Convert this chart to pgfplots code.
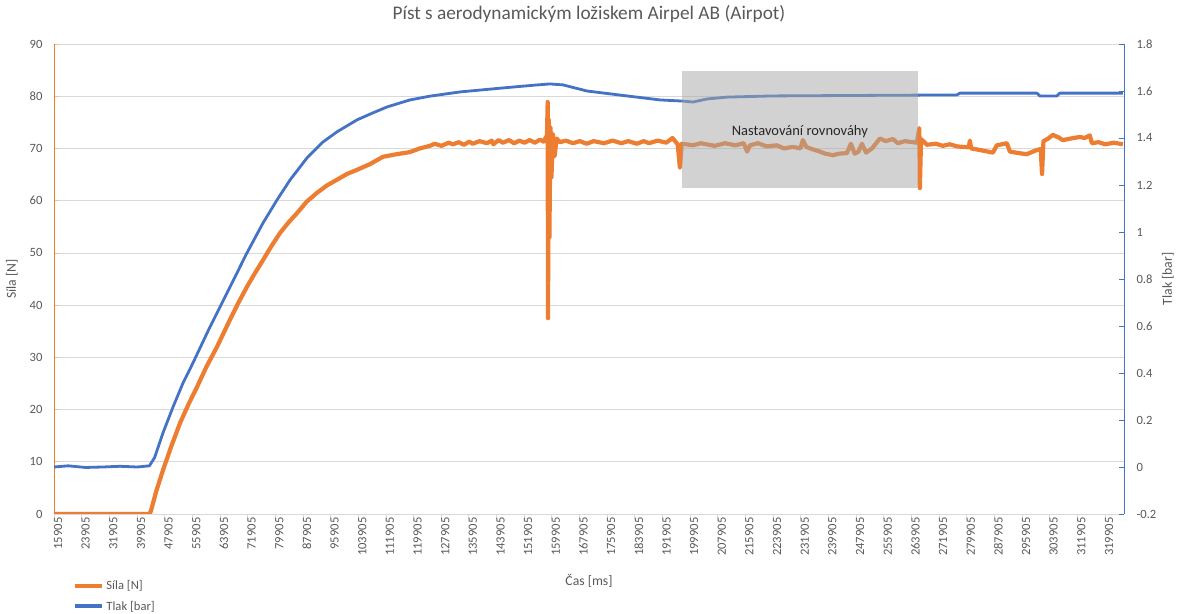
\documentclass[border=0pt]{standalone}
\usepackage{fontspec}
\setmainfont{Carlito}
\usepackage{pgfplots}
\pgfplotsset{compat=1.18}
\definecolor{sorange}{HTML}{ED7D31}
\definecolor{sblue}{HTML}{4472C4}
\definecolor{gridc}{HTML}{D9D9D9}
\definecolor{txt}{HTML}{595959}
\newcommand{\fs}[1]{\fontsize{#1bp}{#1bp}\selectfont}
\begin{document}
\begin{tikzpicture}
\path (0,0) rectangle (1179bp,614bp);
\begin{axis}[
  at={(54bp,100bp)}, anchor=south west, scale only axis,
  width=1070bp, height=470bp,
  xmin=15905, xmax=325400, ymin=0, ymax=90,
  scaled x ticks=false, scaled y ticks=false,
  axis lines*=left, axis line style={-},
  x axis line style={draw=gridc, line width=0.75bp},
  y axis line style={draw=sorange, line width=0.75bp},
  tick align=inside, major tick length=5bp,
  xtick={15905,23905,31905,39905,47905,55905,63905,71905,79905,87905,95905,103905,111905,119905,127905,135905,143905,151905,159905,167905,175905,183905,191905,199905,207905,215905,223905,231905,239905,247905,255905,263905,271905,279905,287905,295905,303905,311905,319905},
  xticklabels={15905,23905,31905,39905,47905,55905,63905,71905,79905,87905,95905,103905,111905,119905,127905,135905,143905,151905,159905,167905,175905,183905,191905,199905,207905,215905,223905,231905,239905,247905,255905,263905,271905,279905,287905,295905,303905,311905,319905},
  xticklabel style={rotate=90, anchor=east, yshift=-4bp},
  xtick style={draw=gridc, line width=0.75bp, yshift=-5bp},
  ytick={0,10,20,30,40,50,60,70,80,90},
  yticklabels={0,10,20,30,40,50,60,70,80,90},
  yticklabel style={xshift=-8bp},
  ytick style={draw=sorange!50, line width=0.75bp},
  ymajorgrids, grid style={draw=gridc, line width=0.75bp},
  tick label style={font=\fs{12.6}, text=txt},
  xlabel={Čas [ms]},
  xlabel style={at={(axis description cs:0.5,-0.153)}, anchor=base, font=\fs{13.7}, text=txt},
  ylabel={Síla [N]},
  ylabel style={at={(axis description cs:-0.0393,0.5)}, anchor=center, font=\fs{13.7}, text=txt},
  title={Píst s aerodynamickým ložiskem Airpel AB (Airpot)},
  title style={at={(axis description cs:0.5,1)}, anchor=base, yshift=19bp, font=\fs{19.3}, text=txt},
  legend style={draw=none, fill=none, at={(axis description cs:0.0178,-0.137)}, anchor=north west,
    font=\fs{12.6}, text=txt, row sep=6bp, inner sep=0pt, cells={anchor=west}},
  legend image code/.code={\draw[#1] (0bp,0bp) -- (27bp,0bp);},
]
\addplot[sorange, line width=4.2bp, line join=round] coordinates {
(15905,0) (30000,0) (43500,0) (43900,0.5) (45500,4.4) (47428,8.4) (49800,12.9)
(52344,17.4) (54800,21.0) (57260,24.3) (60000,28.2) (63044,32.0) (66804,37.2)
(69200,40.4) (71720,43.5) (74000,46.1) (76348,48.6) (78800,51.3) (81265,53.8)
(83700,55.8) (86181,57.6) (89000,59.8) (91966,61.5) (94800,62.9) (97750,64.0)
(100600,65.1) (103535,65.9) (107300,67.0) (111054,68.4) (115000,68.9) (118863,69.3)
(121700,70.0) (124647,70.5) (126000,70.9) (128000,70.5) (130000,71.1) (131299,70.8)
(133000,71.2) (134500,70.7) (136000,71.3) (137000,70.9) (139000,71.4) (141132,71.0)
(142500,71.5) (143000,70.8) (144500,71.6) (145759,71.1) (147500,71.6) (149000,71.0)
(150500,71.5) (152000,71.1) (153500,71.6) (155000,71.1) (156500,71.7) (157500,71.3)
(158500,72.5) (158700,78.9) (158800,37.5) (159000,75.5) (159200,53.0)
(159500,74.0) (159800,64.5) (160200,72.8) (160700,68.5) (161300,71.9) (162244,71.2)
(164000,71.5) (166000,71.0) (168000,71.4) (170000,70.9) (172000,71.4) (175000,71.0)
(177500,71.5) (180000,71.0) (182000,71.4) (184500,70.9) (186500,71.4) (188000,71.0)
(190500,71.5) (193000,71.1) (194800,72.0)
(196300,70.8) (196949,66.3) (197500,70.9) (200708,70.6) (203000,71.0) (207000,70.5)
(210000,71.0) (213000,70.6) (215400,71.0) (216400,69.4) (217200,70.6) (219500,71.0)
(222000,70.4) (225001,70.6) (227000,70.0) (229629,70.3)
(231800,70.0) (232500,71.6) (233500,70.3) (235000,69.9) (237000,69.5) (239000,69.0) (241197,68.7)
(243000,69.0) (245246,69.1) (246400,70.9) (247500,69.0) (248600,69.4) (249600,70.9) (250800,69.2)
(252500,70.0) (254790,71.9) (256500,71.4) (258550,71.8) (260000,71.0) (262000,71.4) (265491,71.1) (266200,73.9)
(266359,62.4) (266700,71.8) (268383,70.7) (271000,70.9) (273000,70.5) (275000,70.8) (277059,70.4) (280500,70.2)
(280819,71.5) (281200,70.0) (283711,69.7) (286000,69.4) (287470,69.2) (288627,70.6) (291519,71.0)
(292387,69.4) (295000,69.1) (297303,68.9) (299800,69.6) (301300,69.9) (301700,65.1) (302100,71.4)
(303500,71.9) (304823,72.6) (306500,72.1) (307716,71.6) (310000,71.9) (312632,72.2) (314000,72.0) (315524,72.5) (316103,71.0)
(318000,71.2) (320000,70.8) (322500,71.1) (325068,70.8)
};
\addlegendentry{Síla [N]}
\addlegendimage{sblue, line width=4bp}
\addlegendentry{Tlak [bar]}
\end{axis}
\begin{axis}[
  at={(54bp,100bp)}, anchor=south west, scale only axis,
  width=1070bp, height=470bp,
  xmin=15905, xmax=325400, ymin=-0.2, ymax=1.8,
  scaled x ticks=false, scaled y ticks=false,
  axis x line=none, axis y line*=right,
  axis line style={-, draw=sblue, line width=0.75bp},
  tick align=inside, major tick length=5bp,
  ytick={-0.2,0,0.2,0.4,0.6,0.8,1,1.2,1.4,1.6,1.8},
  yticklabels={-0.2,0,0.2,0.4,0.6,0.8,1,1.2,1.4,1.6,1.8},
  yticklabel style={xshift=9bp, anchor=west},
  ytick style={draw=sblue, line width=0.75bp},
  tick label style={font=\fs{12.6}, text=txt},
  ylabel={Tlak [bar]},
  ylabel style={at={(axis description cs:1.041,0.5)}, anchor=center, rotate=0, font=\fs{13.7}, text=txt},
]
\addplot[sblue, line width=2.8bp, line join=round] coordinates {
(15905,0.0) (20000,0.005) (25000,-0.002) (30000,0.0) (35000,0.003) (40000,0.0)
(43500,0.005) (45000,0.04) (47428,0.145) (50320,0.255) (53212,0.357) (56104,0.443)
(61020,0.596) (63912,0.681) (66804,0.766) (71720,0.911) (76348,1.038) (80397,1.136)
(84157,1.221) (89074,1.315) (93701,1.383) (97750,1.426) (103535,1.477) (108000,1.506)
(112211,1.532) (118863,1.562) (124647,1.578) (133323,1.596) (145759,1.613) (155000,1.625)
(159352,1.630) (163111,1.626) (170052,1.600) (181621,1.579) (191164,1.562) (197816,1.557)
(200708,1.553) (204757,1.566) (210541,1.574) (223844,1.579) (272142,1.583) (277059,1.583)
(277927,1.591) (300195,1.591) (301063,1.579) (305980,1.579) (306848,1.591) (325068,1.591)
};
\addplot[draw=none, fill=black!35, fill opacity=0.5, forget plot] coordinates {
(197539,1.1867) (265797,1.1867) (265797,1.6844) (197539,1.6844)} -- cycle;
\node[font=\fs{14.5}, text=black!85] at (axis cs:231648,1.429) {Nastavování rovnováhy};
\end{axis}
\end{tikzpicture}
\end{document}
